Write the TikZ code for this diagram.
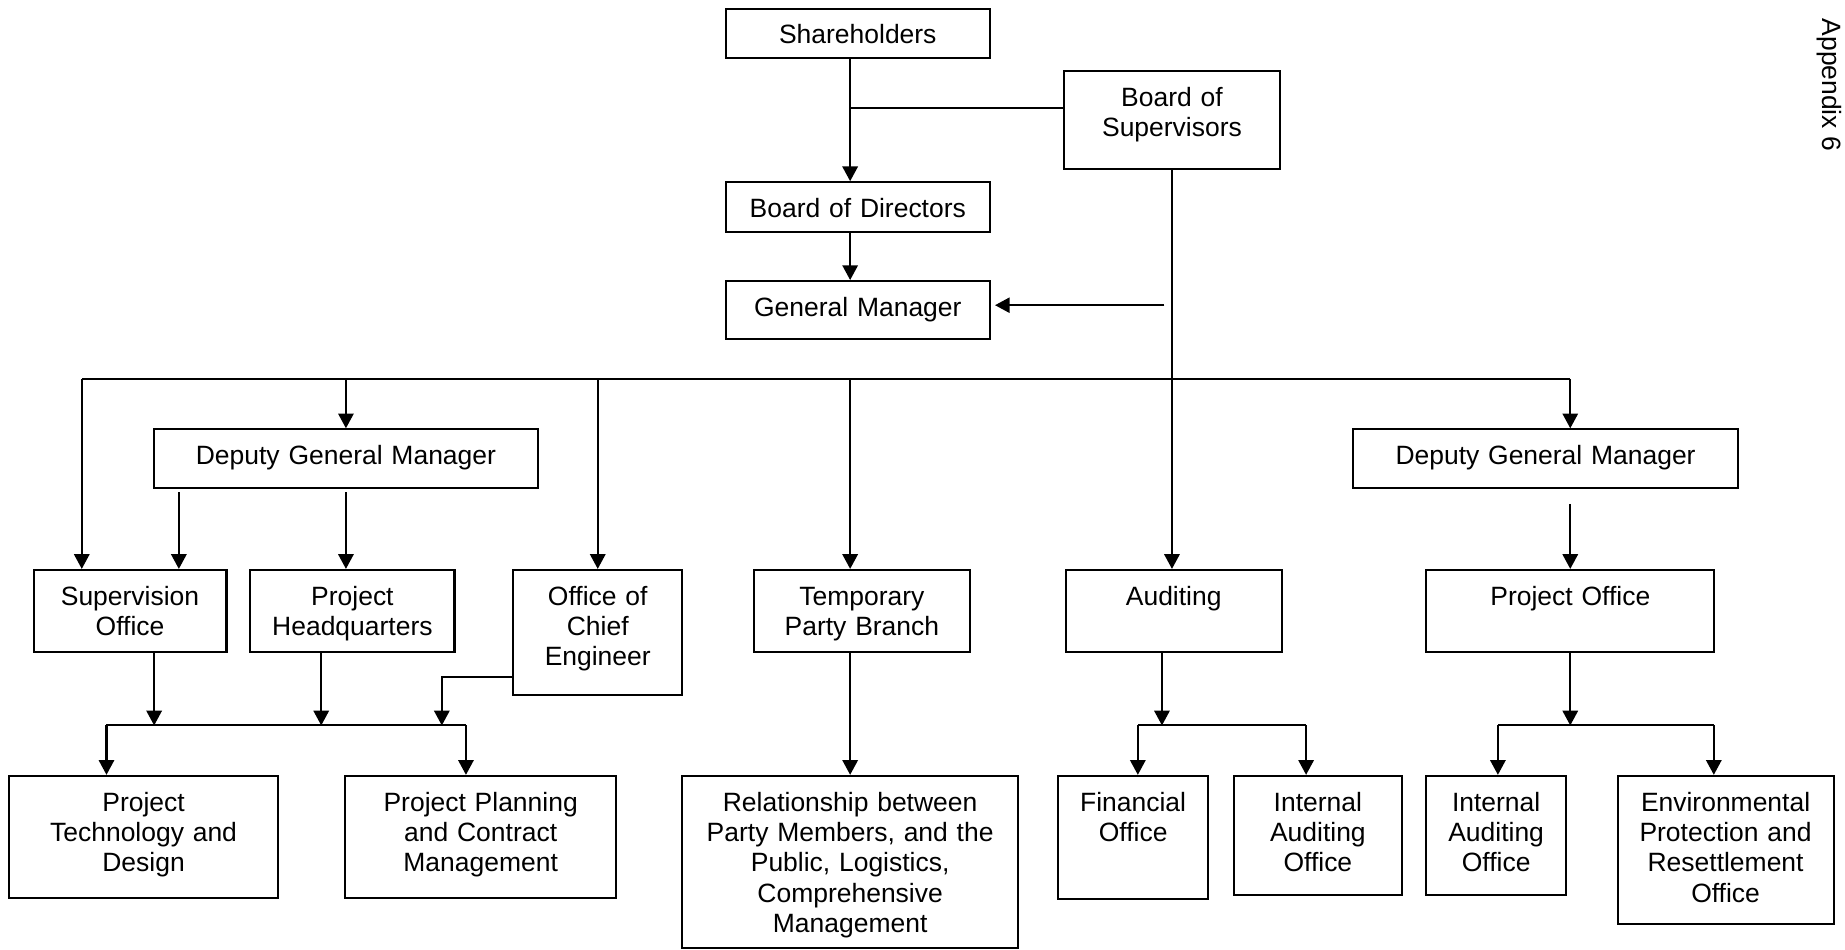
\documentclass[tikz,border=0pt]{standalone}
\usepackage{fontspec}
\setmainfont{Liberation Sans}
\usetikzlibrary{arrows.meta, calc}

\tikzset{
  unit/.style 2 args={draw, line width=1pt, anchor=north, align=center, inner sep=0pt,
    text width=#1, text height=0.6cm, text depth=#2,
    font={\fontsize{12.8pt}{14.65pt}\selectfont}},
  link/.style={line width=1pt, -{Triangle[length=0.25cm, width=0.26cm]}},
  bus/.style={line width=1pt}
}

\begin{document}
\begin{tikzpicture}
\useasboundingbox (0,0) rectangle (31.36,-16.14);

% === Top: owners, boards, manager ===
\node[unit={4.49cm}{0.24cm}] (sh) at (14.58,-0.13) {Shareholders};
\node[unit={3.67cm}{1.07cm}] (bos) at (19.92,-1.19) {Board of\\Supervisors};
\node[unit={4.49cm}{0.24cm}] (bod) at (14.58,-3.08) {Board of Directors};
\node[unit={4.49cm}{0.38cm}] (gm) at (14.58,-4.76) {General Manager};

% === Deputies ===
\node[unit={6.53cm}{0.39cm}] (dgmL) at (5.88,-7.28) {Deputy General Manager};
\node[unit={6.54cm}{0.39cm}] (dgmR) at (26.27,-7.28) {Deputy General Manager};

% === Second row ===
\node[unit={3.28cm}{0.80cm}] (so) at (2.21,-9.67) {Supervision\\Office};
\node[unit={3.47cm}{0.80cm}] (phq) at (5.99,-9.67) {Project\\Headquarters};
\node[unit={2.87cm}{1.53cm}] (oce) at (10.16,-9.67) {Office of\\Chief\\Engineer};
\node[unit={3.67cm}{0.80cm}] (tpb) at (14.65,-9.67) {Temporary\\Party Branch};
\node[unit={3.67cm}{0.80cm}] (aud) at (19.95,-9.67) {Auditing};
\node[unit={4.90cm}{0.80cm}] (po) at (26.69,-9.67) {Project Office};

% === Bottom row ===
\node[unit={4.56cm}{1.47cm}] (ptd) at (2.44,-13.17) {Project\\Technology and\\Design};
\node[unit={4.60cm}{1.47cm}] (ppcm) at (8.17,-13.17) {Project Planning\\and Contract\\Management};
\node[unit={5.71cm}{2.33cm}] (rel) at (14.45,-13.17)
     {Relationship between\\Party Members, and the\\Public, Logistics,\\Comprehensive\\Management};
\node[unit={2.55cm}{1.50cm}] (fin) at (19.26,-13.17) {Financial\\Office};
\node[unit={2.86cm}{1.43cm}] (iaoA) at (22.40,-13.17) {Internal\\Auditing\\Office};
\node[unit={2.39cm}{1.43cm}] (iaoB) at (25.43,-13.17) {Internal\\Auditing\\Office};
\node[unit={3.67cm}{1.92cm}] (epro) at (29.33,-13.17) {Environmental\\Protection and\\Resettlement\\Office};

% Side note
\node[rotate=-90, anchor=base west, inner sep=0pt,
      font={\fontsize{12.8pt}{14.65pt}\selectfont}] (app) at (30.98,-0.31) {Appendix 6};

% Branch points
\coordinate (spine) at (14.45,0);
\coordinate (tie) at ($(bos.west)+(0,0.21)$);
\coordinate (busL) at (1.39,-6.44);
\coordinate (busR) at (26.69,-6.44);
\coordinate (d1) at (3.04,-8.33);
\coordinate (s1) at (2.62,-12.33);
\coordinate (h1) at (5.46,-12.33);
\coordinate (c1) at (7.51,-12.33);
\coordinate (m1) at (1.81,-12.33);
\coordinate (m2) at (7.92,-12.33);
\coordinate (a0) at (19.75,-12.33);
\coordinate (a1) at (19.34,-12.33);
\coordinate (a2) at (22.20,-12.33);
\coordinate (p1) at (25.46,-12.33);
\coordinate (p2) at (29.13,-12.33);

% Top links
\draw[link] (sh.south -| spine) -- (bod.north -| spine);
\draw[bus] (tie -| spine) -- (tie);
\draw[link] (bod.south -| spine) -- (gm.north -| spine);
\draw[link] (bos.south) -- (bos.south |- aud.north);
\draw[link, shorten <=0.13cm] ($(bos.south |- gm.east)+(0,0.08)$) -- ($(gm.east)+(0.07,0.08)$);

% Main bus under the General Manager
\draw[bus] (busL) -- (busR);
\draw[link] (busL) -- (busL |- so.north);
\draw[link] (dgmL.north |- busL) -- (dgmL.north);
\draw[link] (oce.north |- busL) -- (oce.north);
\draw[link] (spine |- busL) -- (spine |- tpb.north);
\draw[link] (busR) -- (busR |- dgmR.north);

% Deputies down
\draw[link, shorten <=0.06cm] (d1 |- dgmL.south) -- (d1 |- so.north);
\draw[link, shorten <=0.06cm] (dgmL.south) -- (dgmL.south |- phq.north);
\draw[link, shorten <=0.26cm] (po.north |- dgmR.south) -- (po.north);

% Lower left group
\draw[link] (so.south -| s1) -- (s1);
\draw[link] (phq.south -| h1) -- (h1);
\draw[link] ($(oce.west)+(0,-0.76)$) -| (c1);
\draw[bus] (m1) -- (m2);
\draw[link] (m1) -- (m1 |- ptd.north);
\draw[link] (m2) -- (m2 |- ppcm.north);

% Party branch
\draw[link] (tpb.south -| spine) -- (rel.north);

% Auditing group
\draw[link] (aud.south -| a0) -- (a0);
\draw[bus] (a1) -- (a2);
\draw[link] (a1) -- (a1 |- fin.north);
\draw[link] (a2) -- (a2 |- iaoA.north);

% Project office group
\draw[link] (po.south) -- (po.south |- p1);
\draw[bus] (p1) -- (p2);
\draw[link] (p1) -- (p1 |- iaoB.north);
\draw[link] (p2) -- (p2 |- epro.north);

\end{tikzpicture}
\end{document}
